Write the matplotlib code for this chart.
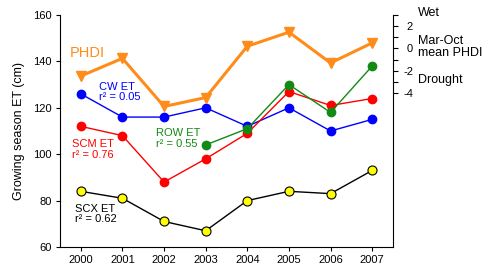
import numpy as np
import matplotlib
matplotlib.use("Agg")
import matplotlib.pyplot as plt

plt.rcParams['font.family'] = ['Liberation Sans', 'DejaVu Sans']
plt.rcParams['font.size'] = 8

# data
years = [2000, 2001, 2002, 2003, 2004, 2005, 2006, 2007]
cw_et = [126, 116, 116, 120, 112, 120, 110, 115]
scm_et = [112, 108, 88, 98, 109, 127, 121, 124]
row_years = [2003, 2004, 2005, 2006, 2007]
row_et = [104, 111, 130, 118, 138]
scx_et = [84, 81, 71, 67, 80, 84, 83, 93]
phdi = [-2.47, -0.89, -5.2, -4.4, 0.2, 1.46, -1.3, 0.5]

orange = '#FF8C1A'
green = '#138A13'

fig = plt.figure(figsize=(4.86, 2.67), dpi=100)
ax = fig.add_axes([60 / 486, 20 / 267, 333 / 486, 232 / 267])
ax2 = ax.twinx()

# ET series on the left axis
ax.plot(years, cw_et, color='blue', lw=1, marker='o', ms=6, mec='blue', zorder=3)
ax.plot(years, scm_et, color='red', lw=1, marker='o', ms=6, mec='red', zorder=3)
ax.plot(row_years, row_et, color=green, lw=1, marker='o', ms=6, mec=green, zorder=3)
ax.plot(years, scx_et, color='black', lw=1, marker='o', ms=6.5,
        mfc='yellow', mec='black', mew=0.8, zorder=3)

# PHDI on the right axis
ax2.plot(years, phdi, color=orange, lw=2.2, marker='v', ms=7.5, mec=orange, zorder=4)

ax.set_xlim(1999.5, 2007.5)
ax.set_ylim(60, 160)
ax.set_xticks(years)
ax.set_yticks(range(60, 161, 20))
ax.set_ylabel('Growing season ET (cm)', fontsize=9, labelpad=6)
ax.tick_params(direction='out', length=3, width=0.8, pad=3)

ax2.set_ylim(-17.8, 3)
ax2.set_yticks([3, 2, 1, 0, -1, -2, -3, -4])
ax2.set_yticklabels(['', '2', '', '0', '', '-2', '', '-4'])
ax2.tick_params(direction='out', length=3.5, width=0.8, pad=11)
for lbl in ax2.get_yticklabels():
    lbl.set_horizontalalignment('right')

for a in (ax, ax2):
    a.spines['top'].set_visible(False)
ax2.spines['left'].set_visible(False)
ax2.spines['bottom'].set_visible(False)
ax.spines['right'].set_visible(False)
ax2.spines['right'].set_bounds(-17.8, 3)

# series labels
ax.text(1999.74, 143.6, 'PHDI', color=orange, fontsize=10.5, va='center')
ax.text(2000.43, 126.9, 'CW ET\nr² = 0.05', color='blue', va='center', linespacing=1.05)
ax.text(1999.78, 102.0, 'SCM ET\nr² = 0.76', color='red', va='center', linespacing=1.05)
ax.text(2001.8, 106.8, 'ROW ET\nr² = 0.55', color=green, va='center', linespacing=1.05)
ax.text(1999.86, 74.2, 'SCX ET\nr² = 0.62', color='black', va='center', linespacing=1.05)

# right axis description
fig.text(418 / 486, 1 - 12.7 / 267, 'Wet', fontsize=9, va='center')
fig.text(418 / 486, 1 - 47 / 267, 'Mar-Oct\nmean PHDI', fontsize=9, va='center', linespacing=1.0)
fig.text(418 / 486, 1 - 80 / 267, 'Drought', fontsize=9, va='center')

fig.savefig('out.png', dpi=100)
